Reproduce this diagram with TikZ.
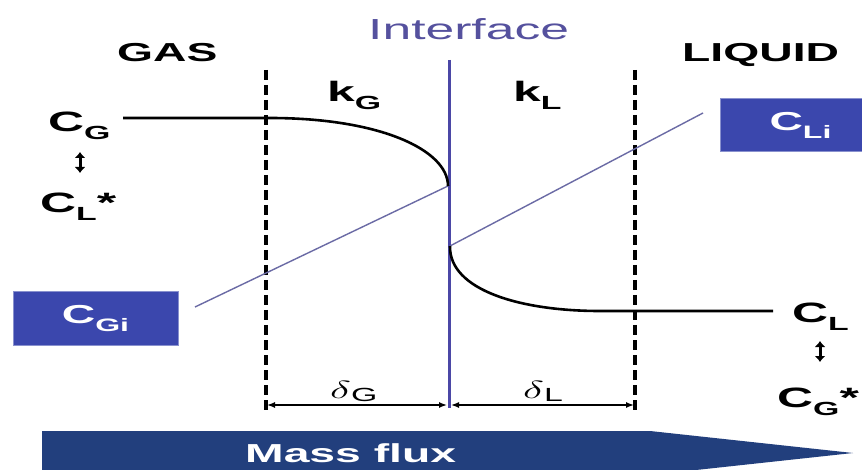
\documentclass[tikz,border=0pt]{standalone}
\usepackage{fontspec}
\setmainfont{Liberation Sans}
\usetikzlibrary{arrows.meta}
\definecolor{ifc}{HTML}{4B47A6}
\definecolor{iftext}{HTML}{55519E}
\definecolor{thinc}{HTML}{6B6BA5}
\definecolor{boxc}{HTML}{3B47AD}
\definecolor{bandc}{HTML}{223F7D}
\newcommand\hs[1]{\scalebox{1.78}[1]{#1}}
\newcommand\csub[2][19]{\raisebox{-8pt}{\fontsize{#1}{#1}\selectfont #2}}
\tikzset{
  lbl/.style={inner sep=0pt, font=\fontsize{28}{28}\selectfont\bfseries, anchor=base west},
  hdr/.style={inner sep=0pt, font=\fontsize{26}{26}\selectfont\bfseries, anchor=base west},
  cbox/.style={fill=boxc, draw=boxc!60!white, line width=1pt, minimum height=53pt, inner sep=0pt, text=white, font=\fontsize{26}{26}\selectfont\bfseries},
  dashv/.style={line width=4pt, dash pattern=on 10pt off 5pt},
  prof/.style={line width=2.6pt, black},
  thinl/.style={line width=1.4pt, thinc},
  dim/.style={line width=1.4pt, {Latex[length=8pt,width=6pt]}-{Latex[length=8pt,width=6pt]}},
  dbl/.style={line width=3pt, {Latex[length=6pt,width=11pt]}-{Latex[length=6pt,width=11pt]}},
}
\begin{document}
\begin{tikzpicture}[x=1pt,y=-1pt]
\useasboundingbox (0,0) rectangle (862,470);
\clip (0,0) rectangle (862,470);
\fill[white] (0,0) rectangle (862,470);

% mass flux band
\fill[bandc] (42,431) -- (650,431) -- (853,453) -- (650,475) -- (42,475) -- cycle;
\node[hdr, text=white] (flux) at (245,462) {\hs{Mass flux}};

% headers
\node[hdr] (gas) at (117,62) {\hs{GAS}};
\node[hdr] (liq) at (682,62) {\hs{LIQUID}};
\node[inner sep=0pt, anchor=base west, text=iftext, font=\fontsize{29}{29}\selectfont] (iftxt) at (368,40) {\hs{Interface}};

% dashed film boundaries
\coordinate (dlt) at (266,70);
\coordinate (dlb) at (266,413);
\coordinate (drt) at (635,70);
\coordinate (drb) at (635,413);
\draw[dashv] (dlt) -- (dlb);
\draw[dashv] (drt) -- (drb);

% interface
\coordinate (it) at (449,60);
\coordinate (ib) at (449,408);
\draw[ifc, line width=3pt] (it) -- (ib);

% boxes
\node[cbox, minimum width=165pt] (cgi) at (95.5,318.5) {\hs{C\csub[18]{Gi}}};
\node[cbox, minimum width=160pt, anchor=west] (cli) at (720,125) {\hs{C\csub[18]{Li}}};

% thin equilibrium lines
\coordinate (tl0) at (195,307);
\coordinate (ifG) at (448,186);
\coordinate (ifL) at (450,246);
\coordinate (tr1) at (703,113);
\draw[thinl] (tl0) -- (ifG);
\draw[thinl] (ifL) -- (tr1);

% concentration profiles
\coordinate (cg0) at (123,118);
\coordinate (cg1) at (270,118);
\coordinate (cl1) at (600,311);
\coordinate (cl2) at (773,311);
\draw[prof] (cg0) -- (cg1) .. controls (380,118) and (448,150) .. (ifG);
\draw[prof] (ifL) .. controls (449,290) and (520,311) .. (cl1) -- (cl2);

% left labels
\node[lbl] (cg) at (48,132) {\hs{C\csub{G}}};
\coordinate (ua) at (80,152);
\coordinate (ub) at (80,173);
\draw[dbl] (ua) -- (ub);
\node[lbl] (clstar) at (40,213) {\hs{C\csub{L}*}};

% right labels
\node[lbl] (cl) at (792,323) {\hs{C\csub{L}}};
\coordinate (va) at (820,341);
\coordinate (vb) at (820,362);
\draw[dbl] (va) -- (vb);
\node[lbl] (cgstar) at (777,407) {\hs{C\csub{G}*}};

% k labels
\node[lbl] (kg) at (327,102) {\hs{k\csub{G}}};
\node[lbl] (kl) at (513,102) {\hs{k\csub{L}}};

% film thickness
\coordinate (d0) at (267,405);
\coordinate (d1) at (447,405);
\coordinate (d2) at (451,405);
\coordinate (d3) at (634,405);
\draw[dim] (d0) -- (d1);
\draw[dim] (d2) -- (d3);
\node[inner sep=0pt, anchor=base west] (dg) at (330,398) {\hs{\fontsize{26}{26}\selectfont$\delta$\raisebox{-3pt}{\fontsize{19}{19}\selectfont G}}};
\node[inner sep=0pt, anchor=base west] (dl) at (523,398) {\hs{\fontsize{26}{26}\selectfont$\delta$\raisebox{-3pt}{\fontsize{19}{19}\selectfont L}}};
\end{tikzpicture}
\end{document}
